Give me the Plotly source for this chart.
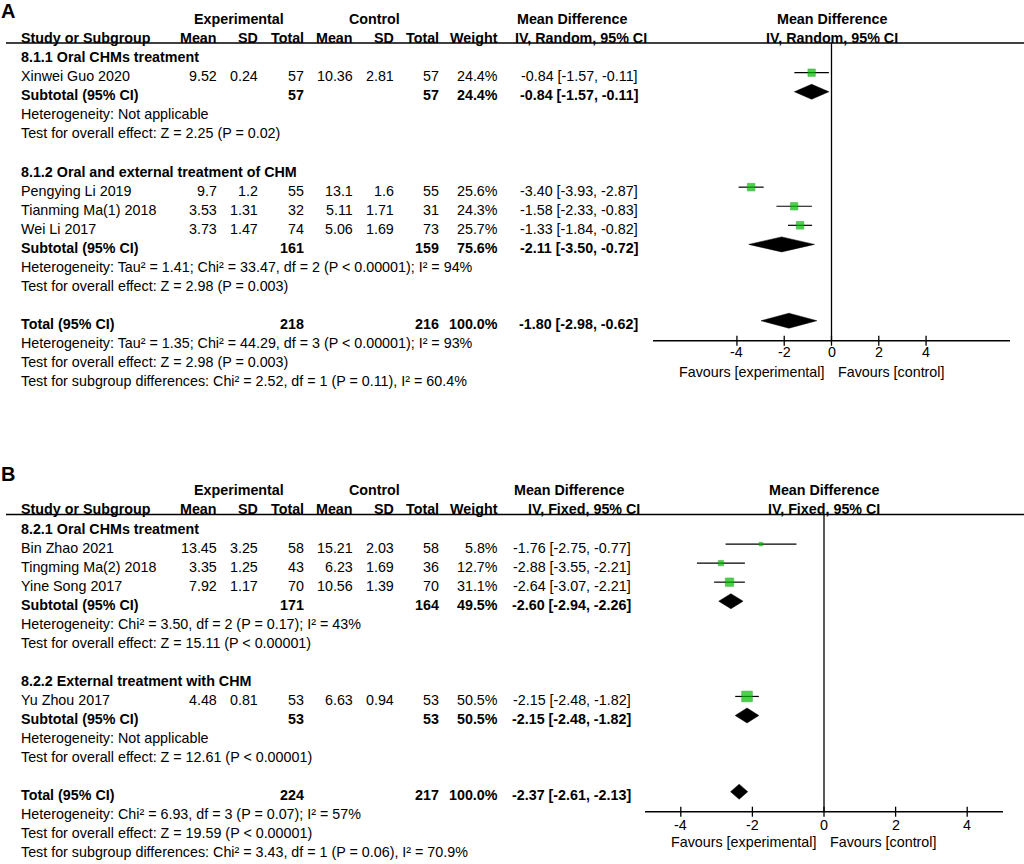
import math
import plotly.graph_objects as go

W, H = 1024, 864
FONT = "Liberation Sans, Arial, sans-serif"
FS = 14.3

# ---------------- Panel A data (Random effects) ----------------
A_group_names = ["8.1.1 Oral CHMs treatment", "8.1.2 Oral and external treatment of CHM"]
A_study = ["Xinwei Guo 2020", "Pengying Li 2019", "Tianming Ma(1) 2018", "Wei Li 2017"]
A_study_group = [0, 1, 1, 1]
A_exp_mean = [9.52, 9.7, 3.53, 3.73]
A_exp_sd = [0.24, 1.2, 1.31, 1.47]
A_exp_n = [57, 55, 32, 74]
A_ctl_mean = [10.36, 13.1, 5.11, 5.06]
A_ctl_sd = [2.81, 1.6, 1.71, 1.69]
A_ctl_n = [57, 55, 31, 73]
A_weight = [24.4, 25.6, 24.3, 25.7]
A_md = [-0.84, -3.40, -1.58, -1.33]
A_lo = [-1.57, -3.93, -2.33, -1.84]
A_hi = [-0.11, -2.87, -0.83, -0.82]
A_sub_exp_n = [57, 161]
A_sub_ctl_n = [57, 159]
A_sub_weight = [24.4, 75.6]
A_sub_md = [-0.84, -2.11]
A_sub_lo = [-1.57, -3.50]
A_sub_hi = [-0.11, -0.72]
A_sub_het = ["Heterogeneity: Not applicable",
             "Heterogeneity: Tau² = 1.41; Chi² = 33.47, df = 2 (P < 0.00001); I² = 94%"]
A_sub_test = ["Test for overall effect: Z = 2.25 (P = 0.02)",
              "Test for overall effect: Z = 2.98 (P = 0.003)"]
A_total = [218, 216, 100.0, -1.80, -2.98, -0.62]
A_total_text = ["Heterogeneity: Tau² = 1.35; Chi² = 44.29, df = 3 (P < 0.00001); I² = 93%",
                "Test for overall effect: Z = 2.98 (P = 0.003)",
                "Test for subgroup differences: Chi² = 2.52, df = 1 (P = 0.11), I² = 60.4%"]

# ---------------- Panel B data (Fixed effects) ----------------
B_group_names = ["8.2.1 Oral CHMs treatment", "8.2.2 External treatment with CHM"]
B_study = ["Bin Zhao 2021", "Tingming Ma(2) 2018", "Yine Song 2017", "Yu Zhou 2017"]
B_study_group = [0, 0, 0, 1]
B_exp_mean = [13.45, 3.35, 7.92, 4.48]
B_exp_sd = [3.25, 1.25, 1.17, 0.81]
B_exp_n = [58, 43, 70, 53]
B_ctl_mean = [15.21, 6.23, 10.56, 6.63]
B_ctl_sd = [2.03, 1.69, 1.39, 0.94]
B_ctl_n = [58, 36, 70, 53]
B_weight = [5.8, 12.7, 31.1, 50.5]
B_md = [-1.76, -2.88, -2.64, -2.15]
B_lo = [-2.75, -3.55, -3.07, -2.48]
B_hi = [-0.77, -2.21, -2.21, -1.82]
B_sub_exp_n = [171, 53]
B_sub_ctl_n = [164, 53]
B_sub_weight = [49.5, 50.5]
B_sub_md = [-2.60, -2.15]
B_sub_lo = [-2.94, -2.48]
B_sub_hi = [-2.26, -1.82]
B_sub_het = ["Heterogeneity: Chi² = 3.50, df = 2 (P = 0.17); I² = 43%",
             "Heterogeneity: Not applicable"]
B_sub_test = ["Test for overall effect: Z = 15.11 (P < 0.00001)",
              "Test for overall effect: Z = 12.61 (P < 0.00001)"]
B_total = [224, 217, 100.0, -2.37, -2.61, -2.13]
B_total_text = ["Heterogeneity: Chi² = 6.93, df = 3 (P = 0.07); I² = 57%",
                "Test for overall effect: Z = 19.59 (P < 0.00001)",
                "Test for subgroup differences: Chi² = 3.43, df = 1 (P = 0.06), I² = 70.9%"]

tick_vals = [-4, -2, 0, 2, 4]

SPLIT = 430  # pixel row separating the two panels

panels = [
    dict(label="A", label_y=10.5, method="IV, Random, 95% CI", base=53.6, step=19.08,
         xdom=(653, 1010), ypx=(0, SPLIT), xrange=(-7.55, 7.55), md_right=640, mdh_left=515,
         ivh_left=513, tick_dy=11, fav_dy=31, xa="x", ya="y", xkey="xaxis", ykey="yaxis",
         groups=A_group_names, study=A_study, sg=A_study_group,
         em=A_exp_mean, es=A_exp_sd, en=A_exp_n, cm=A_ctl_mean, cs=A_ctl_sd, cn=A_ctl_n,
         w=A_weight, md=A_md, lo=A_lo, hi=A_hi,
         sen=A_sub_exp_n, scn=A_sub_ctl_n, sw=A_sub_weight, smd=A_sub_md, slo=A_sub_lo, shi=A_sub_hi,
         shet=A_sub_het, stest=A_sub_test, tot=A_total, tott=A_total_text),
    dict(label="B", label_y=474, method="IV, Fixed, 95% CI", base=525.0, step=19.05,
         xdom=(645, 1003), ypx=(SPLIT, H), xrange=(-5.0, 5.0), md_right=633, mdh_left=512,
         ivh_left=526, tick_dy=13, fav_dy=30, xa="x2", ya="y2", xkey="xaxis2", ykey="yaxis2",
         groups=B_group_names, study=B_study, sg=B_study_group,
         em=B_exp_mean, es=B_exp_sd, en=B_exp_n, cm=B_ctl_mean, cs=B_ctl_sd, cn=B_ctl_n,
         w=B_weight, md=B_md, lo=B_lo, hi=B_hi,
         sen=B_sub_exp_n, scn=B_sub_ctl_n, sw=B_sub_weight, smd=B_sub_md, slo=B_sub_lo, shi=B_sub_hi,
         shet=B_sub_het, stest=B_sub_test, tot=B_total, tott=B_total_text),
]

# column right edges (px)
COL_X = [219, 260, 306, 355, 396, 441, 500]
LEFT_X = 19
TOFF = 3.5
DIAMOND_H = 7.5

fig = go.Figure()
annotations = []
shapes = []
layout_axes = {}


def ci_text(m, l, h):
    return "%.2f [%.2f, %.2f]" % (m, l, h)


def num(v):
    return ("%g" % v)


for P in panels:
    base, step = P["base"], P["step"]
    xa, ya = P["xa"], P["ya"]

    def txt(x_px, y_px, s, anchor="left", bold=False, size=FS, ya=ya):
        annotations.append(dict(
            x=x_px / W, xref="paper", y=y_px, yref=ya,
            text=("<b>%s</b>" % s) if bold else s, showarrow=False,
            xanchor=anchor, yanchor="middle",
            font=dict(family=FONT, size=size, color="black")))

    rowy = lambda i: base + step * i
    ty = lambda i: base + step * i + TOFF
    underline_y = base - 10.5
    axis_y = base + 15.05 * step

    # panel label
    txt(-1, P["label_y"], P["label"], bold=True, size=20)
    # headers
    txt(239, ty(-2), "Experimental", anchor="center", bold=True)
    txt(374, ty(-2), "Control", anchor="center", bold=True)
    txt(P["mdh_left"], ty(-2), "Mean Difference", bold=True)
    txt(LEFT_X, ty(-1), "Study or Subgroup", bold=True)
    for x, h in zip(COL_X, ["Mean", "SD", "Total", "Mean", "SD", "Total", "Weight"]):
        txt(x, ty(-1), h, anchor="right", bold=True)
    txt(P["ivh_left"], ty(-1), P["method"], bold=True)
    # right headers centred on zero of the forest axis
    for k, s in enumerate(["Mean Difference", P["method"]]):
        annotations.append(dict(x=0, xref=xa, y=ty(-2 + k), yref=ya, text="<b>%s</b>" % s,
                                showarrow=False, xanchor="center", yanchor="middle",
                                font=dict(family=FONT, size=FS, color="black")))
    shapes.append(dict(type="line", xref="paper", yref=ya, x0=6 / W, x1=1.0,
                       y0=underline_y, y1=underline_y, line=dict(color="black", width=1.5)))

    # rows
    i = 0
    study_rows = []
    diamonds = []
    for g, gname in enumerate(P["groups"]):
        txt(LEFT_X, ty(i), gname, bold=True)
        i += 1
        for s in range(len(P["study"])):
            if P["sg"][s] != g:
                continue
            vals = [num(P["em"][s]), num(P["es"][s]), str(P["en"][s]),
                    num(P["cm"][s]), num(P["cs"][s]), str(P["cn"][s]), "%.1f%%" % P["w"][s]]
            txt(LEFT_X, ty(i), P["study"][s])
            for x, v in zip(COL_X, vals):
                txt(x, ty(i), v, anchor="right")
            txt(P["md_right"], ty(i), ci_text(P["md"][s], P["lo"][s], P["hi"][s]), anchor="right")
            study_rows.append((s, rowy(i)))
            i += 1
        txt(LEFT_X, ty(i), "Subtotal (95% CI)", bold=True)
        txt(COL_X[2], ty(i), str(P["sen"][g]), anchor="right", bold=True)
        txt(COL_X[5], ty(i), str(P["scn"][g]), anchor="right", bold=True)
        txt(COL_X[6], ty(i), "%.1f%%" % P["sw"][g], anchor="right", bold=True)
        txt(P["md_right"], ty(i), ci_text(P["smd"][g], P["slo"][g], P["shi"][g]), anchor="right", bold=True)
        diamonds.append((P["smd"][g], P["slo"][g], P["shi"][g], rowy(i)))
        i += 1
        txt(LEFT_X, ty(i), P["shet"][g]); i += 1
        txt(LEFT_X, ty(i), P["stest"][g]); i += 1
        i += 1  # blank row
    tot = P["tot"]
    txt(LEFT_X, ty(i), "Total (95% CI)", bold=True)
    txt(COL_X[2], ty(i), str(tot[0]), anchor="right", bold=True)
    txt(COL_X[5], ty(i), str(tot[1]), anchor="right", bold=True)
    txt(COL_X[6], ty(i), "%.1f%%" % tot[2], anchor="right", bold=True)
    txt(P["md_right"], ty(i), ci_text(tot[3], tot[4], tot[5]), anchor="right", bold=True)
    diamonds.append((tot[3], tot[4], tot[5], rowy(i)))
    i += 1
    for line in P["tott"]:
        txt(LEFT_X, ty(i), line)
        i += 1

    # forest: CI lines
    lx, ly = [], []
    for s, y in study_rows:
        lx += [P["lo"][s], P["hi"][s], None]
        ly += [y, y, None]
    fig.add_trace(go.Scatter(x=lx, y=ly, xaxis=xa, yaxis=ya, mode="lines",
                             line=dict(color="black", width=1.2), hoverinfo="skip", showlegend=False))
    # squares sized by weight
    fig.add_trace(go.Scatter(
        x=[P["md"][s] for s, _ in study_rows], y=[y for _, y in study_rows],
        xaxis=xa, yaxis=ya, mode="markers",
        marker=dict(symbol="square", color="#00c000",
                    size=[max(3.5, 1.5 * math.sqrt(P["w"][s])) for s, _ in study_rows],
                    line=dict(color="#009000", width=0.6)),
        hoverinfo="skip", showlegend=False))
    # diamonds
    for m, l, h, y in diamonds:
        fig.add_trace(go.Scatter(x=[l, m, h, m, l], y=[y, y - DIAMOND_H, y, y + DIAMOND_H, y],
                                 xaxis=xa, yaxis=ya, mode="lines", fill="toself",
                                 fillcolor="black", line=dict(color="black", width=0.5),
                                 hoverinfo="skip", showlegend=False))
    # zero line
    shapes.append(dict(type="line", xref=xa, yref=ya, x0=0, x1=0, y0=underline_y, y1=axis_y,
                       line=dict(color="black", width=1.3)))
    # axis line across the whole forest range
    shapes.append(dict(type="line", xref=xa, yref=ya, x0=P["xrange"][0], x1=P["xrange"][1],
                       y0=axis_y, y1=axis_y, line=dict(color="black", width=1.5)))
    # crossing tick marks
    for tv in tick_vals:
        shapes.append(dict(type="line", xref=xa, yref=ya, x0=tv, x1=tv,
                           y0=axis_y - 5, y1=axis_y + 5, line=dict(color="black", width=1.3)))
    # tick labels
    for tv in tick_vals:
        annotations.append(dict(x=tv, xref=xa, y=axis_y + P["tick_dy"], yref=ya, text=str(tv),
                                showarrow=False, xanchor="center", yanchor="middle",
                                font=dict(family=FONT, size=FS, color="black")))
    # favours labels
    annotations.append(dict(x=0, xref=xa, y=axis_y + P["fav_dy"], yref=ya,
                            text="Favours [experimental]", showarrow=False, xanchor="right",
                            xshift=-6, yanchor="middle", font=dict(family=FONT, size=FS, color="black")))
    annotations.append(dict(x=0, xref=xa, y=axis_y + P["fav_dy"], yref=ya,
                            text="Favours [control]", showarrow=False, xanchor="left",
                            xshift=4, yanchor="middle", font=dict(family=FONT, size=FS, color="black")))

    top_px, bot_px = P["ypx"]
    layout_axes[P["xkey"]] = dict(
        domain=[P["xdom"][0] / W, P["xdom"][1] / W], range=list(P["xrange"]), anchor=ya,
        showline=False, showgrid=False, zeroline=False, showticklabels=False, ticks="",
        fixedrange=True)
    layout_axes[P["ykey"]] = dict(
        domain=[1 - bot_px / H, 1 - top_px / H], range=[bot_px, top_px], anchor=xa,
        visible=False, showgrid=False, zeroline=False, fixedrange=True)

fig.update_layout(
    width=W, height=H, margin=dict(l=0, r=0, t=0, b=0),
    paper_bgcolor="white", plot_bgcolor="rgba(0,0,0,0)",
    annotations=annotations, shapes=shapes, showlegend=False,
    **layout_axes)

fig.write_html("out.html", config={"displayModeBar": False},
               post_script="document.body.style.margin='0px';")
